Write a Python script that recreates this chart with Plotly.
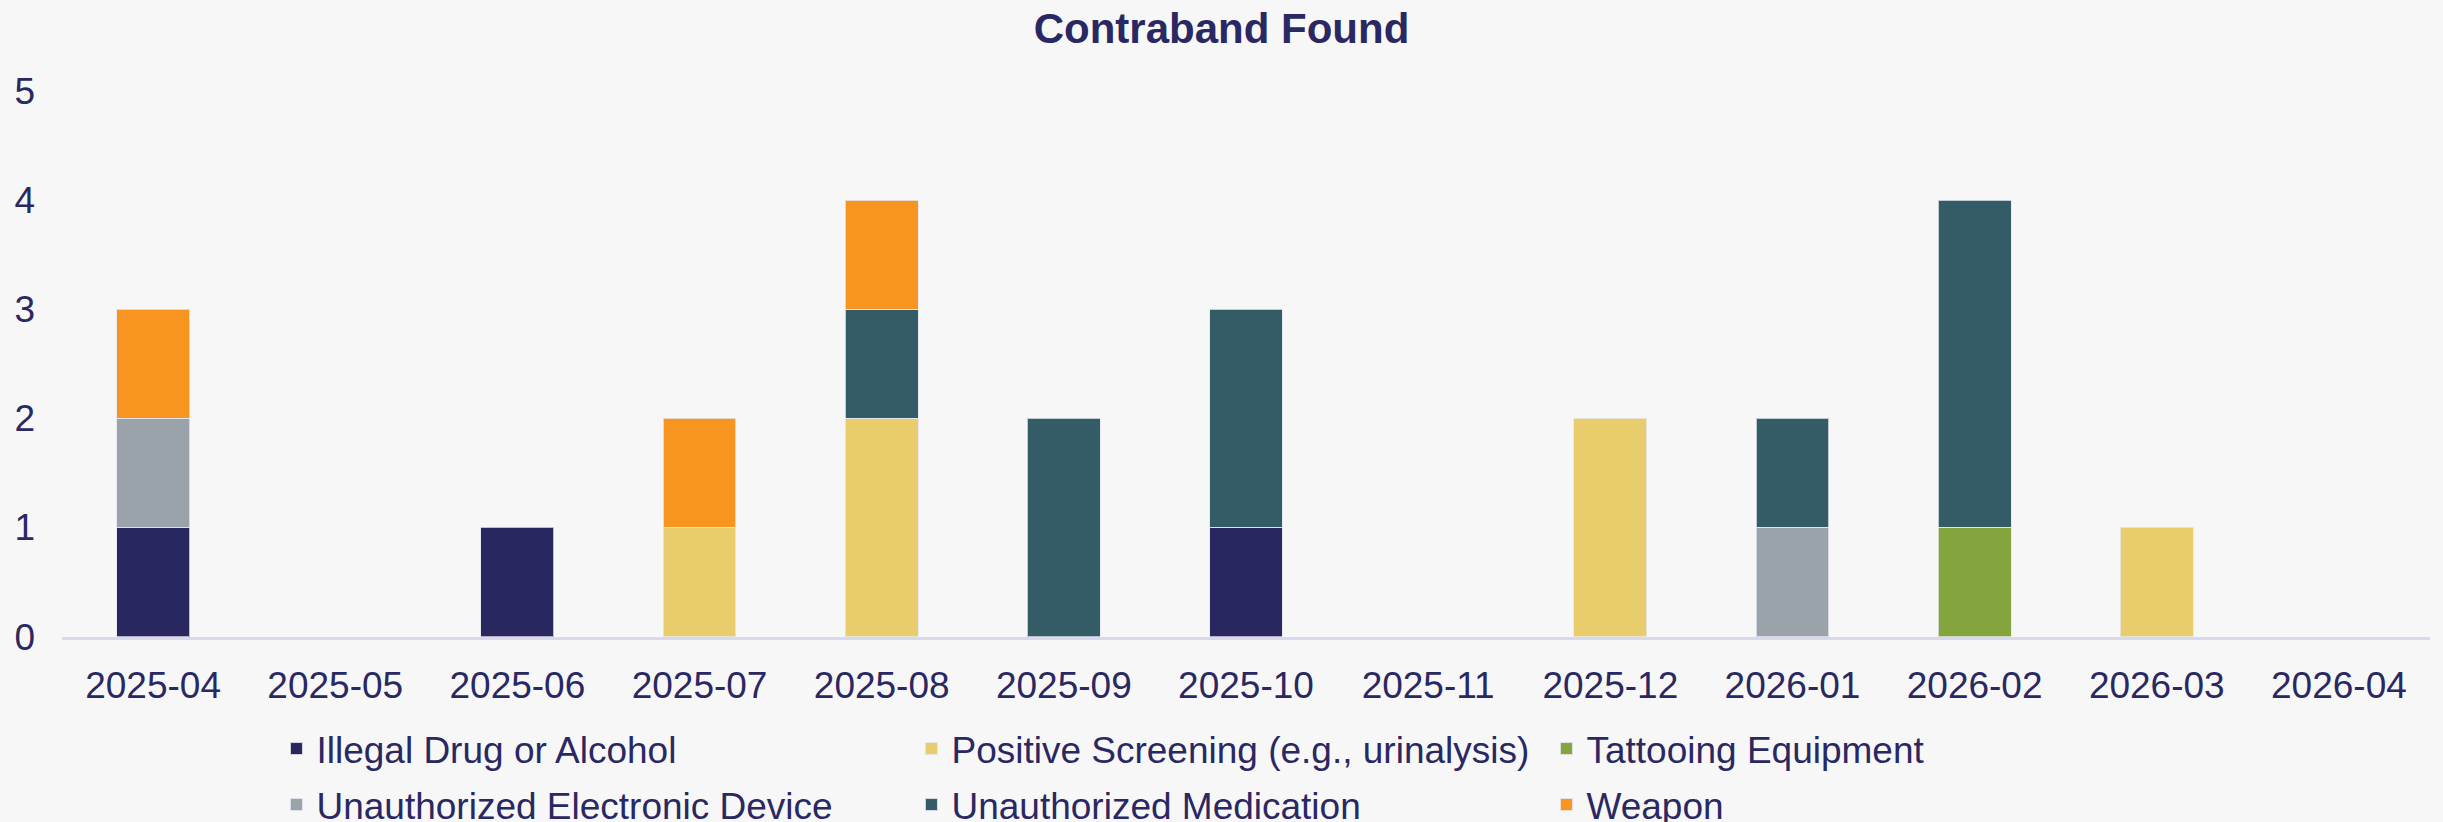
import plotly.graph_objects as go

months = ["2025-04", "2025-05", "2025-06", "2025-07", "2025-08", "2025-09", "2025-10",
          "2025-11", "2025-12", "2026-01", "2026-02", "2026-03", "2026-04"]

illegal_drug = [1, 0, 1, 0, 0, 0, 1, 0, 0, 0, 0, 0, 0]
positive_screening = [0, 0, 0, 1, 2, 0, 0, 0, 2, 0, 0, 1, 0]
tattooing = [0, 0, 0, 0, 0, 0, 0, 0, 0, 0, 1, 0, 0]
electronic = [1, 0, 0, 0, 0, 0, 0, 0, 0, 1, 0, 0, 0]
medication = [0, 0, 0, 0, 1, 2, 2, 0, 0, 1, 3, 0, 0]
weapon = [1, 0, 0, 1, 1, 0, 0, 0, 0, 0, 0, 0, 0]

series = [
    ("Illegal Drug or Alcohol", illegal_drug, "#29275f", "legend"),
    ("Positive Screening (e.g., urinalysis)", positive_screening, "#e9cc6b", "legend"),
    ("Tattooing Equipment", tattooing, "#84a43e", "legend"),
    ("Unauthorized Electronic Device", electronic, "#9ba3aa", "legend2"),
    ("Unauthorized Medication", medication, "#335c66", "legend2"),
    ("Weapon", weapon, "#f89521", "legend2"),
]

FONT = "Liberation Sans, Arial, sans-serif"
TXT = "#2a2862"

fig = go.Figure()
for name, vals, color, lg in series:
    fig.add_trace(go.Bar(
        x=months, y=[v if v else None for v in vals], name=name, legend=lg,
        marker=dict(color=color, line=dict(color="rgba(230,230,240,0.8)", width=1)),
    ))

legend_common = dict(orientation="h", x=0.4928, xanchor="center", xref="paper",
                     yanchor="middle", yref="container",
                     traceorder="normal", entrywidth=590, entrywidthmode="pixels",
                     font=dict(family=FONT, size=37, color=TXT), bgcolor="rgba(0,0,0,0)")

fig.update_layout(
    width=2443, height=822,
    barmode="stack", bargap=0.6,
    paper_bgcolor="#f7f7f7", plot_bgcolor="#f7f7f7",
    margin=dict(l=62, r=13, t=91, b=184),
    font=dict(family=FONT, size=37, color=TXT),
    title=dict(text="<b>Contraband Found</b>", x=0.5, xanchor="center",
               y=1 - 28 / 822, yanchor="middle", yref="container",
               font=dict(family=FONT, size=42, color=TXT)),
    xaxis=dict(type="category", range=[-0.5, 12.5], showgrid=False, zeroline=False,
               showline=True, linecolor="#d8d8ef", linewidth=3,
               ticks="", ticklabelstandoff=14, tickfont=dict(size=37, color=TXT)),
    yaxis=dict(range=[0, 5], dtick=1, showgrid=False, zeroline=False, showline=False,
               ticks="", ticklabelstandoff=26, tickfont=dict(size=37, color=TXT)),
    legend=dict(legend_common, y=1 - 749 / 822),
    legend2=dict(legend_common, y=1 - 805 / 822),
    showlegend=True,
)

fig.write_html("out.html", config={"displayModeBar": False},
               post_script="document.body.style.margin='0';")
